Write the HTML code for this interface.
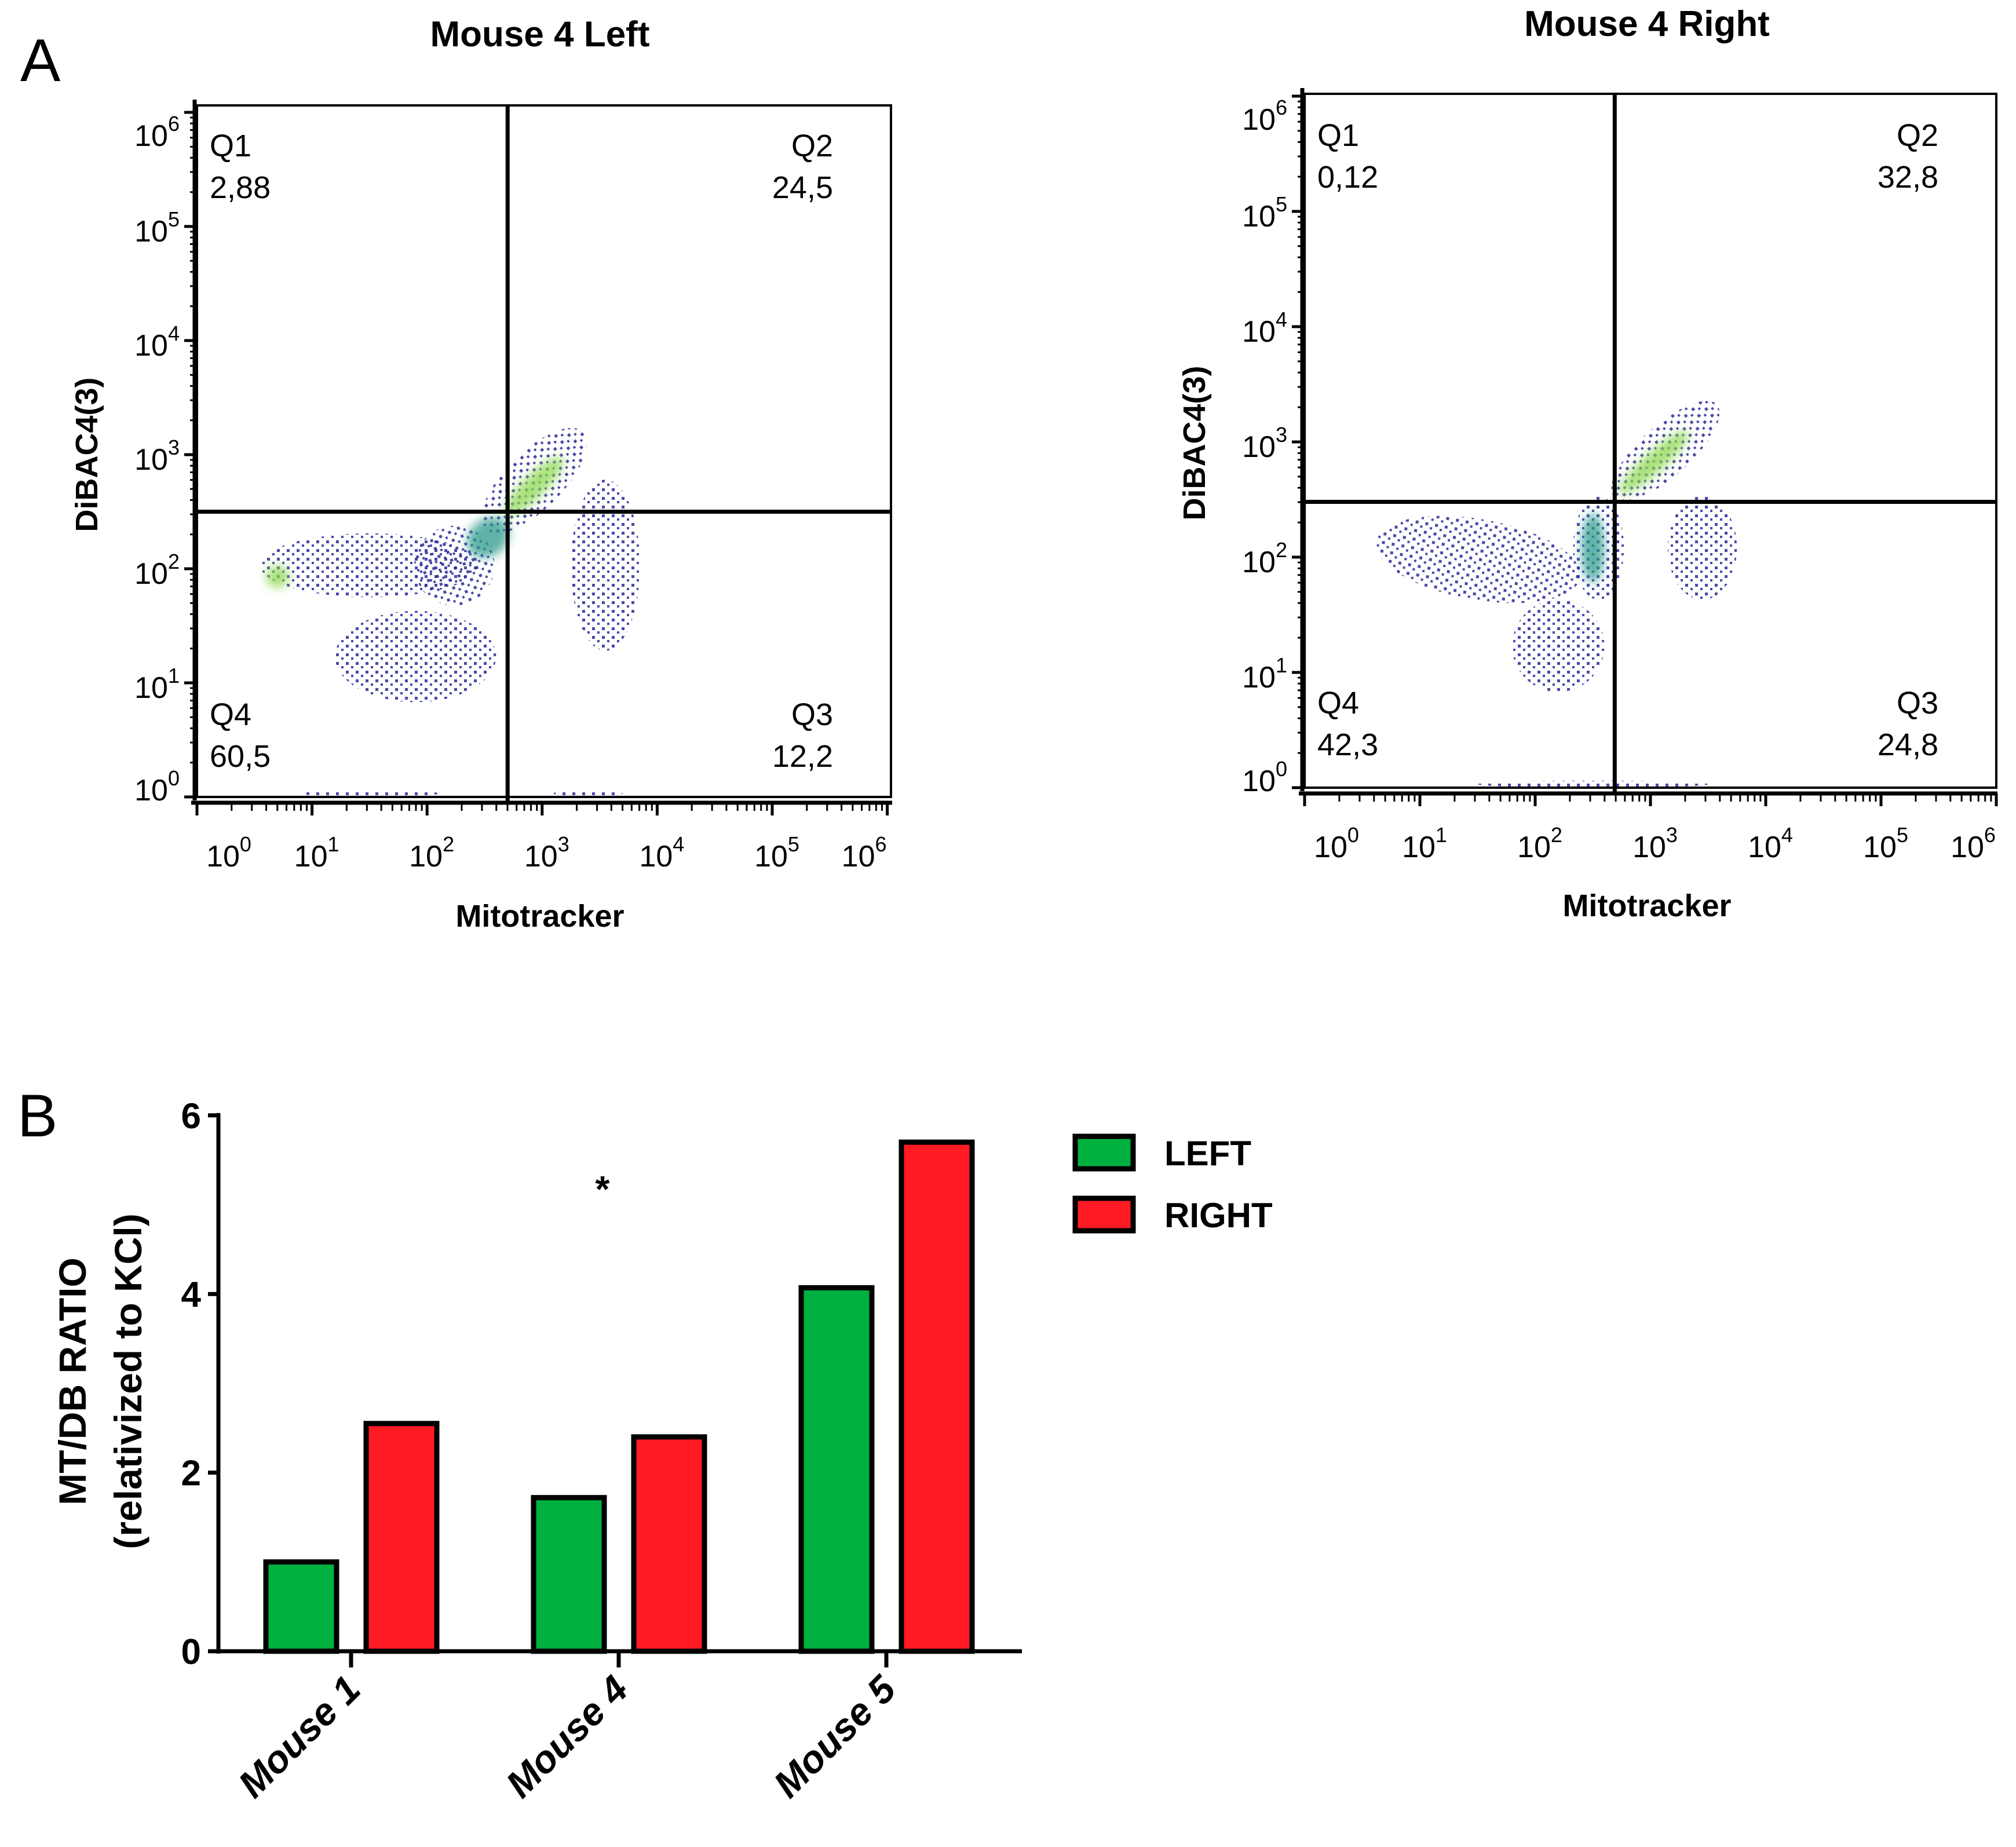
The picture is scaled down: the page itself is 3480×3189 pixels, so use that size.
<!DOCTYPE html>
<html><head><meta charset="utf-8"><style>
html,body{margin:0;padding:0;background:#fff}
svg{display:block}
text{font-family:"Liberation Sans",Arial,sans-serif}
</style></head><body>
<svg id="fig" width="3480" height="3189" viewBox="0 0 3480 3189" xmlns="http://www.w3.org/2000/svg">
<defs>
<filter id="blur" x="-50%" y="-50%" width="200%" height="200%"><feGaussianBlur stdDeviation="8"/></filter>
<pattern id="dots" width="17" height="15" patternUnits="userSpaceOnUse"><rect x="2" y="3" width="5" height="5" fill="#2a2a9a"/><rect x="11" y="10" width="4" height="4" fill="#2a2a9a"/></pattern>
</defs>
<rect width="3480" height="3189" fill="#fff"/>
<text x="35" y="140" font-size="104">A</text>
<text x="30" y="1962" font-size="104">B</text>
<g id="flowL"></g>
<g id="flowR"></g>
<g id="bars"></g>
</svg>
<script>
// ---- Bar chart data ----
const categories = ["Mouse 1","Mouse 4","Mouse 5"];
const leftValues = [1.0, 1.72, 4.07];
const rightValues = [2.55, 2.4, 5.7];
const yTicks = [0,2,4,6];
const seriesNames = ["LEFT","RIGHT"];
const decadeLabels = [0,1,2,3,4,5,6];
const quadLeft = ["2,88","24,5","12,2","60,5"];
const quadRight = ["0,12","32,8","24,8","42,3"];
// clouds in log-coordinates: [x, y, rx, ry, rotationDeg, kind]  kind 0=dots,1=teal core,2=green core
const cloudsLeft = [[1.5,2.0,0.95,0.28,0,0],[2.25,2.0,0.35,0.35,25,0],[2.95,2.75,0.6,0.25,45,0],[3.55,2.0,0.3,0.75,0,0],[1.9,1.2,0.7,0.4,0,0],[2.55,2.25,0.2,0.16,40,1],[2.95,2.7,0.35,0.1,45,2],[0.7,1.9,0.1,0.1,0,2],[1.5,0.0,0.6,0.03,0,0],[3.4,0.0,0.3,0.03,0,0]];
const cloudsRight = [[1.5,1.95,0.9,0.35,-10,0],[2.55,2.05,0.22,0.45,0,0],[2.5,2.05,0.1,0.3,0,1],[3.15,2.9,0.6,0.22,42,0],[3.05,2.8,0.4,0.09,42,2],[3.45,2.05,0.3,0.45,0,0],[2.2,1.2,0.4,0.4,0,0],[2.5,0.0,1.0,0.03,0,0]];

const NS="http://www.w3.org/2000/svg";
function el(tag,attrs,parent,txt){const e=document.createElementNS(NS,tag);for(const k in attrs)e.setAttribute(k,attrs[k]);if(txt!==undefined)e.textContent=txt;parent.appendChild(e);return e;}

function flow(g,cfg,quads,clouds,title){
  const xs=d=>cfg.x0+d*cfg.dx, ys=d=>cfg.y0-d*cfg.dy;
  clouds.forEach(c=>{
    const a={cx:xs(c[0]),cy:ys(c[1])-6,rx:c[2]*cfg.dx,ry:Math.max(c[3]*cfg.dy,6),transform:`rotate(${-c[4]} ${xs(c[0])} ${ys(c[1])})`};
    if(c[5]==0){a.fill='url(#dots)';a.opacity=0.85;}
    else{a.fill=c[5]==1?'#2a9a8a':'#8cd850';a.opacity=0.75;a.filter='url(#blur)';}
    const e=el('ellipse',a,g);
    
    
  });
  const box=el('rect',{x:cfg.bx0,y:cfg.by0,width:cfg.bx1-cfg.bx0,height:cfg.by1-cfg.by0,fill:'none',stroke:'#000','stroke-width':4},g);
  
  el('line',{x1:cfg.bx0-4,y1:cfg.by0-10,x2:cfg.bx0-4,y2:cfg.by1+6,stroke:'#000','stroke-width':7},g);
  el('line',{x1:cfg.bx0-10,y1:cfg.by1+10,x2:cfg.bx1+2,y2:cfg.by1+10,stroke:'#000','stroke-width':7},g);
  decadeLabels.forEach(d=>{
    el('line',{x1:cfg.bx0-22,y1:ys(d),x2:cfg.bx0,y2:ys(d),stroke:'#000','stroke-width':5},g);
    el('line',{x1:xs(d),y1:cfg.by1+10,x2:xs(d),y2:cfg.by1+32,stroke:'#000','stroke-width':5},g);
    if(d<6)for(let m=2;m<10;m++){const o=Math.log10(m);
      el('line',{x1:cfg.bx0-12,y1:ys(d+o),x2:cfg.bx0,y2:ys(d+o),stroke:'#000','stroke-width':3},g);
      el('line',{x1:xs(d+o),y1:cfg.by1+10,x2:xs(d+o),y2:cfg.by1+24,stroke:'#000','stroke-width':3},g);}
    const yoff = d==6?40:(d==0?-12:8);
    const ty=el('text',{x:cfg.bx0-30,y:ys(d)+yoff+18,'font-size':52,'text-anchor':'end'},g);
    
    ty.textContent='10';el('tspan',{dy:-26,'font-size':36},ty,String(d));
    const xoff = d==0?55:(d==6?-40:8);
    const tx=el('text',{x:xs(d)+xoff,y:cfg.by1+120,'font-size':52,'text-anchor':'middle'},g);
    
    tx.textContent='10';el('tspan',{dy:-26,'font-size':36},tx,String(d));
  });
  el('line',{x1:xs(cfg.gxv),y1:cfg.by0,x2:xs(cfg.gxv),y2:cfg.by1+10,stroke:'#000','stroke-width':7},g);
  el('line',{x1:cfg.bx0,y1:ys(cfg.gyv),x2:cfg.bx1,y2:ys(cfg.gyv),stroke:'#000','stroke-width':7},g);
  const q=[[cfg.bx0+22,'start',cfg.qy1,'Q1',quads[0]],[cfg.bx1-100,'end',cfg.qy1,'Q2',quads[1]],[cfg.bx1-100,'end',cfg.qy2,'Q3',quads[2]],[cfg.bx0+22,'start',cfg.qy2,'Q4',quads[3]]];
  q.forEach(a=>{
    const t1=el('text',{x:a[0],y:a[2],'font-size':54,'text-anchor':a[1]},g,a[3]);
    
    const t2=el('text',{x:a[0],y:a[2]+72,'font-size':54,'text-anchor':a[1]},g,a[4]);
    
  });
  const tt=el('text',{x:cfg.tx,y:cfg.ty,'font-size':62,'font-weight':'bold','text-anchor':'middle'},g,title);
  
  const xt=el('text',{x:cfg.tx,y:cfg.xty,'font-size':54,'font-weight':'bold','text-anchor':'middle'},g,'Mitotracker');
  
  const yt=el('text',{x:0,y:0,'font-size':54,'font-weight':'bold','text-anchor':'middle',transform:`translate(${cfg.ytx},${cfg.yty}) rotate(-90)`},g,'DiBAC4(3)');
  
}
flow(document.getElementById('flowL'),{x0:340,dx:198.6,y0:1376,dy:197,bx0:340,bx1:1538,by0:182,by1:1376,gxv:2.7,gyv:2.5,qy1:270,qy2:1252,tx:932,ty:80,xty:1600,ytx:168,yty:785},quadLeft,cloudsLeft,'Mouse 4 Left');
flow(document.getElementById('flowR'),{x0:2252,dx:199,y0:1360,dy:199,bx0:2252,bx1:3446,by0:162,by1:1360,gxv:2.69,gyv:2.48,qy1:252,qy2:1232,tx:2843,ty:62,xty:1582,ytx:2080,yty:765},quadRight,cloudsRight,'Mouse 4 Right');

// ---- bar chart ----
const bg=document.getElementById('bars');
const axX0=377, axX1=1764, y0=2851, unit=154.2;
const yv=v=>y0-v*unit;
const groupCenters=i=>606+i*462;
const bw=122;
el('line',{x1:axX0,y1:yv(6)-4,x2:axX0,y2:y0+4,stroke:'#000','stroke-width':7},bg);
el('line',{x1:axX0,y1:y0,x2:axX1,y2:y0,stroke:'#000','stroke-width':7},bg);
yTicks.forEach(t=>{
  el('line',{x1:axX0-18,y1:yv(t),x2:axX0,y2:yv(t),stroke:'#000','stroke-width':7},bg);
  const tl=el('text',{x:axX0-30,y:yv(t)+22,'font-size':62,'font-weight':'bold','text-anchor':'end'},bg,String(t));
  
});
categories.forEach((c,i)=>{
  const cx=groupCenters(i);
  el('line',{x1:cx,y1:y0,x2:cx,y2:y0+28,stroke:'#000','stroke-width':7},bg);
  const b1=el('rect',{x:cx-147,y:yv(leftValues[i]),width:bw,height:leftValues[i]*unit,fill:'#00b140',stroke:'#000','stroke-width':9},bg);
  
  const b2=el('rect',{x:cx+26,y:yv(rightValues[i]),width:bw,height:rightValues[i]*unit,fill:'#ff1a24',stroke:'#000','stroke-width':9},bg);
  
  const lab=el('text',{x:0,y:0,'font-size':66,'font-weight':'bold','font-style':'italic','text-anchor':'end',transform:`translate(${cx+20},${y0+70}) rotate(-45)`},bg,c);
  
});
const yt1=el('text',{x:0,y:0,'font-size':66,'font-weight':'bold','text-anchor':'middle',transform:`translate(148,2385) rotate(-90)`},bg,'MT/DB RATIO');

const yt2=el('text',{x:0,y:0,'font-size':66,'font-weight':'bold','text-anchor':'middle',transform:`translate(244,2385) rotate(-90)`},bg,'(relativized to KCl)');

const ast=el('text',{x:1040,y:2075,'font-size':64,'font-weight':'bold','text-anchor':'middle'},bg,'*');

const legCols=['#00b140','#ff1a24'];
seriesNames.forEach((n,i)=>{
  const ly=1962+i*107;
  const r=el('rect',{x:1856,y:ly,width:100,height:56,fill:legCols[i],stroke:'#000','stroke-width':9},bg);
  
  const t=el('text',{x:2010,y:ly+50,'font-size':60,'font-weight':'bold'},bg,n);
  
});
</script>
</body></html>
